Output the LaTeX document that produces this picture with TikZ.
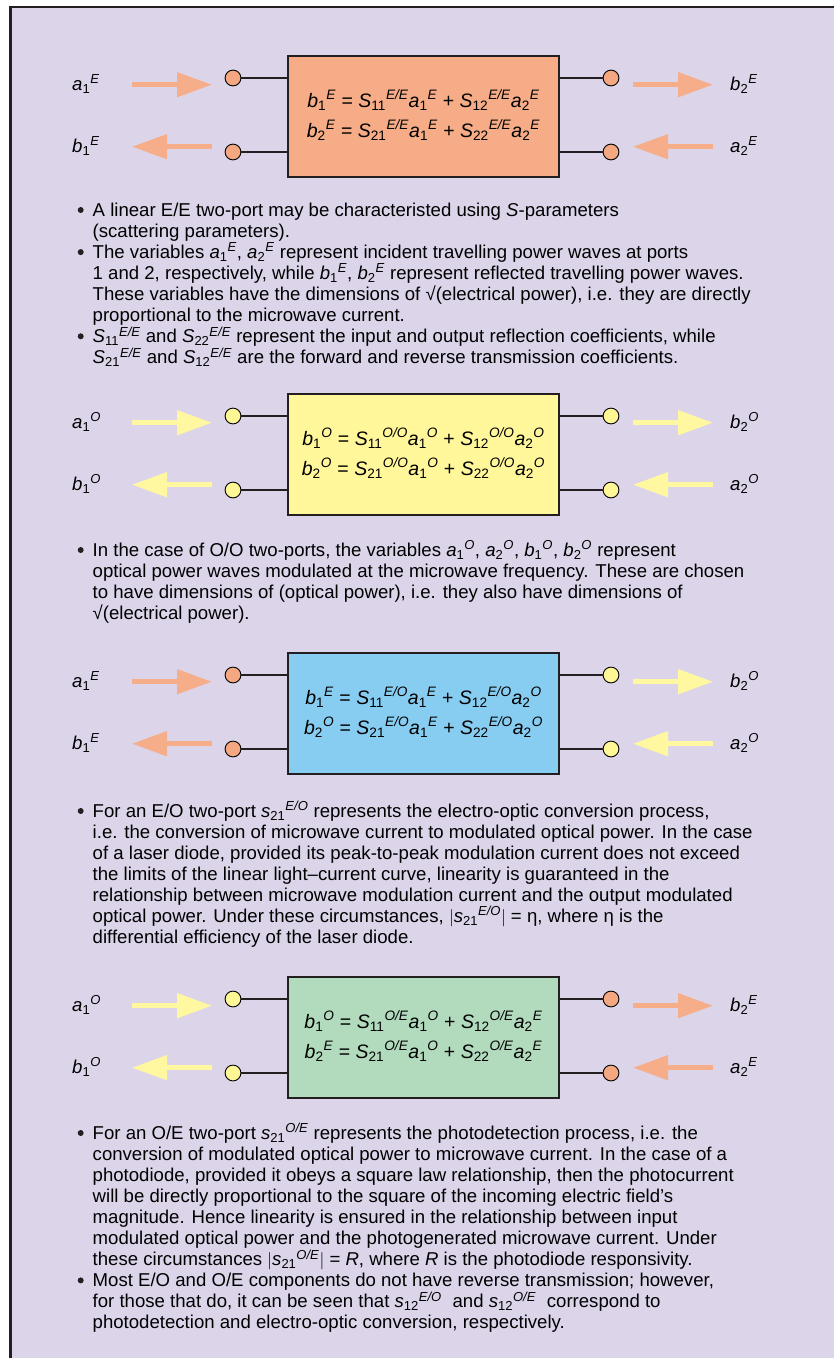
\documentclass[tikz,border=0pt]{standalone}
\usepackage{fontspec}
\setmainfont{Liberation Sans}
\usetikzlibrary{arrows.meta}
\definecolor{bgc}{RGB}{220,213,234}
\definecolor{bord}{RGB}{35,31,32}
\definecolor{boxEE}{RGB}{245,172,135}
\definecolor{boxOO}{RGB}{255,247,153}
\definecolor{boxEO}{RGB}{135,204,241}
\definecolor{boxOE}{RGB}{178,219,190}
\definecolor{arrE}{RGB}{246,174,138}
\definecolor{arrO}{RGB}{255,248,160}
\definecolor{portE}{RGB}{244,168,130}
\definecolor{portO}{RGB}{255,246,150}

\newcommand{\myv}[3]{\textit{#1}\textsubscript{#2}\textsuperscript{\textit{#3}}}
\newcommand{\eqs}{\hspace{0.28em}}
\newcommand{\para}[1]{\vtop{\baselineskip=21.05pt\lineskiplimit=-100pt\lineskip=0pt\halign{##\hfil\cr#1\crcr}}}

\tikzset{
  tbox/.style={draw=bord, line width=1.3pt, minimum width=271pt, minimum height=121pt, inner sep=0pt},
  port/.style={circle, draw=black, line width=0.9pt, minimum size=15.8pt, inner sep=0pt},
  wire/.style={draw=bord, line width=1.2pt},
  arr/.style={line width=4.8pt, -{Triangle[length=35pt,width=24pt]}},
  lab/.style={font=\fontsize{18.6}{21}\selectfont, anchor=base west, inner sep=0pt},
  eq/.style={font=\fontsize{19.5}{21}\selectfont, anchor=base, inner sep=0pt},
  txt/.style={font=\fontsize{18.6}{21.05}\selectfont, anchor=base west, inner sep=0pt},
  bul/.style={circle, fill=bord, minimum size=6pt, inner sep=0pt}
}

% #1 name, #2 top y, #3 box colour, #4 left domain, #5 right domain
\newcommand{\tport}[5]{%
  \node[tbox, fill=#3] (#1box) at (423.5,#2+60.5) {};
  \node[eq] (#1eqa) at (423.5,#2+51) {\myv{b}{1}{#4}\eqs=\eqs\myv{S}{11}{#4/#5}\myv{a}{1}{#4}\eqs+\eqs\myv{S}{12}{#4/#5}\myv{a}{2}{#5}};
  \node[eq] (#1eqb) at (423.5,#2+81) {\myv{b}{2}{#5}\eqs=\eqs\myv{S}{21}{#4/#5}\myv{a}{1}{#4}\eqs+\eqs\myv{S}{22}{#4/#5}\myv{a}{2}{#5}};
  \node[port, fill=port#4] (#1c1) at (233,#2+22) {};
  \node[port, fill=port#4] (#1c2) at (233,#2+96) {};
  \node[port, fill=port#5] (#1c3) at (611,#2+22) {};
  \node[port, fill=port#5] (#1c4) at (611,#2+96) {};
  \draw[wire] (#1c1) -- (#1c1 -| #1box.west);
  \draw[wire] (#1c2) -- (#1c2 -| #1box.west);
  \draw[wire] (#1c3) -- (#1c3 -| #1box.east);
  \draw[wire] (#1c4) -- (#1c4 -| #1box.east);
  \coordinate (#1p1) at (132,#2+28.7);
  \coordinate (#1q1) at (212,#2+28.7);
  \coordinate (#1p2) at (212,#2+90.7);
  \coordinate (#1q2) at (132,#2+90.7);
  \coordinate (#1p3) at (633,#2+28.7);
  \coordinate (#1q3) at (713,#2+28.7);
  \coordinate (#1p4) at (713,#2+90.7);
  \coordinate (#1q4) at (633,#2+90.7);
  \draw[arr, arr#4] (#1p1) -- (#1q1);
  \draw[arr, arr#4] (#1p2) -- (#1q2);
  \draw[arr, arr#5] (#1p3) -- (#1q3);
  \draw[arr, arr#5] (#1p4) -- (#1q4);
  \node[lab] (#1la1) at (72,#2+34) {\myv{a}{1}{#4}};
  \node[lab] (#1lb1) at (72,#2+96) {\myv{b}{1}{#4}};
  \node[lab] (#1lb2) at (730,#2+34) {\myv{b}{2}{#5}};
  \node[lab] (#1la2) at (730,#2+96) {\myv{a}{2}{#5}};
}

\begin{document}
\begin{tikzpicture}[x=1pt,y=-1pt]
\useasboundingbox (0,0) rectangle (834,1358);
\clip (0,0) rectangle (834,1358);
\fill[white] (0,0) rectangle (834,1358);
\fill[bgc] (10.5,7) rectangle (900,1450);
\draw[bord, line width=2.4pt] (10.5,1450) -- (10.5,7) -- (900,7);

\tport{ee}{56}{boxEE}{E}{E}
\tport{oo}{394}{boxOO}{O}{O}
\tport{eo}{653}{boxEO}{E}{O}
\tport{oe}{977}{boxOE}{O}{E}

% block 1 text
\node[bul] (bu1) at (80.7,210) {};
\node[txt] (tx1) at (92.5,216) {\para{A linear E/E two-port may be characteristed using \textit{S}-parameters\cr
(scattering parameters).}};
\node[bul] (bu2) at (80.7,252.1) {};
\node[txt] (tx2) at (92.5,258.1) {\para{The variables \myv{a}{1}{E}, \myv{a}{2}{E} represent incident travelling power waves at ports\cr
1 and 2, respectively, while \myv{b}{1}{E}, \myv{b}{2}{E} represent reflected travelling power waves.\cr
These variables have the dimensions of √(electrical power), i.e. they are directly\cr
proportional to the microwave current.}};
\node[bul] (bu3) at (80.7,336.3) {};
\node[txt] (tx3) at (92.5,342.3) {\para{\myv{S}{11}{E/E} and \myv{S}{22}{E/E} represent the input and output reflection coefficients, while\cr
\myv{S}{21}{E/E} and \myv{S}{12}{E/E} are the forward and reverse transmission coefficients.}};

% block 2 text
\node[bul] (bu4) at (80.7,550) {};
\node[txt] (tx4) at (92.5,556) {\para{In the case of O/O two-ports, the variables \myv{a}{1}{O}, \myv{a}{2}{O}, \myv{b}{1}{O}, \myv{b}{2}{O} represent\cr
optical power waves modulated at the microwave frequency. These are chosen\cr
to have dimensions of (optical power), i.e. they also have dimensions of\cr
√(electrical power).}};

% block 3 text
\node[bul] (bu5) at (80.7,811) {};
\node[txt] (tx5) at (92.5,817) {\para{For an E/O two-port \myv{s}{21}{E/O} represents the electro-optic conversion process,\cr
i.e. the conversion of microwave current to modulated optical power. In the case\cr
of a laser diode, provided its peak-to-peak modulation current does not exceed\cr
the limits of the linear light–current curve, linearity is guaranteed in the\cr
relationship between microwave modulation current and the output modulated\cr
optical power. Under these circumstances, $|$\myv{s}{21}{E/O}$|$ = η, where η is the\cr
differential efficiency of the laser diode.}};

% block 4 text
\node[bul] (bu6) at (80.7,1133) {};
\node[txt] (tx6) at (92.5,1139) {\para{For an O/E two-port \myv{s}{21}{O/E} represents the photodetection process, i.e. the\cr
conversion of modulated optical power to microwave current. In the case of a\cr
photodiode, provided it obeys a square law relationship, then the photocurrent\cr
will be directly proportional to the square of the incoming electric field’s\cr
magnitude. Hence linearity is ensured in the relationship between input\cr
modulated optical power and the photogenerated microwave current. Under\cr
these circumstances $|$\myv{s}{21}{O/E}$|$ = \textit{R}, where \textit{R} is the photodiode responsivity.}};
\node[bul] (bu7) at (80.7,1280.4) {};
\node[txt] (tx7) at (92.5,1286.4) {\para{Most E/O and O/E components do not have reverse transmission; however,\cr
for those that do, it can be seen that \myv{s}{12}{E/O}\hspace{0.3em} and \myv{s}{12}{O/E}\hspace{0.3em} correspond to\cr
photodetection and electro-optic conversion, respectively.}};
\end{tikzpicture}
\end{document}
